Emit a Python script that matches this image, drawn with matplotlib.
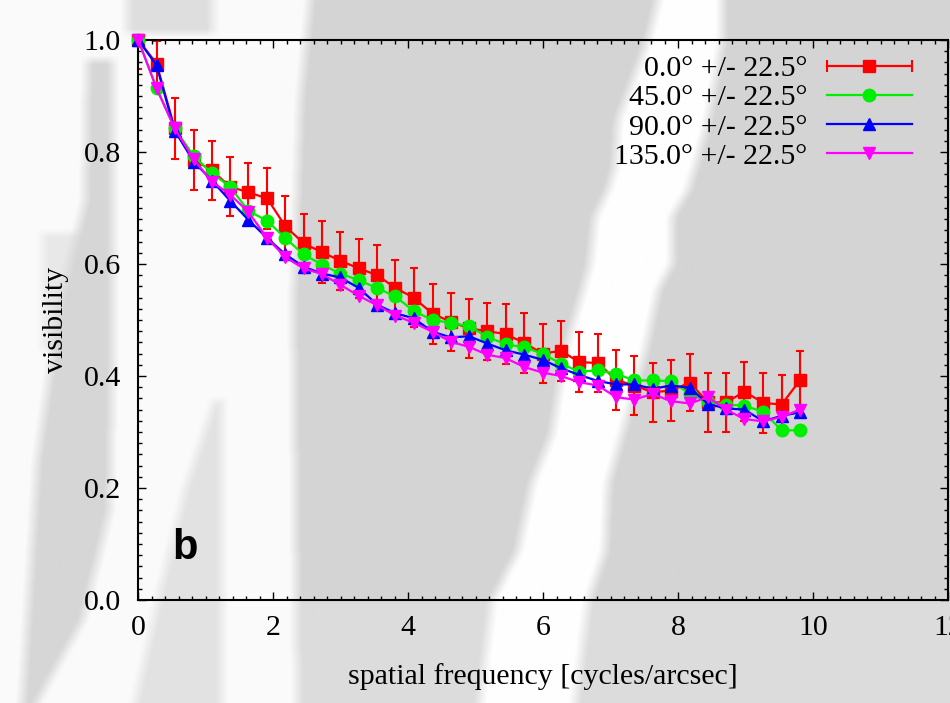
import numpy as np
import matplotlib
matplotlib.use("Agg")
import matplotlib.pyplot as plt
from matplotlib.path import Path
from matplotlib.lines import Line2D
from matplotlib.legend_handler import HandlerLine2D, HandlerTuple

# ---------------- data ----------------
freq = [0.00, 0.27, 0.54, 0.82, 1.09, 1.36, 1.63, 1.91, 2.18, 2.45, 2.72, 2.99,
        3.27, 3.54, 3.81, 4.08, 4.36, 4.63, 4.90, 5.17, 5.44, 5.72, 5.99, 6.26,
        6.53, 6.81, 7.08, 7.35, 7.62, 7.89, 8.17, 8.44, 8.71, 8.98, 9.26, 9.53, 9.80]

vis_0 = [1.000, 0.958, 0.842, 0.786, 0.767, 0.738, 0.728, 0.717, 0.667, 0.637, 0.621, 0.606,
         0.592, 0.580, 0.557, 0.540, 0.511, 0.497, 0.485, 0.480, 0.475, 0.459, 0.440, 0.445,
         0.425, 0.423, 0.393, 0.383, 0.371, 0.374, 0.388, 0.353, 0.353, 0.372, 0.352, 0.349, 0.392]
err_0 = [0.052, 0.040, 0.054, 0.054, 0.053, 0.053, 0.053, 0.054, 0.054, 0.053, 0.055, 0.052,
         0.052, 0.054, 0.051, 0.052, 0.053, 0.052, 0.053, 0.051, 0.054, 0.053, 0.053, 0.054,
         0.053, 0.052, 0.053, 0.053, 0.053, 0.054, 0.051, 0.053, 0.053, 0.053, 0.053, 0.053, 0.053]

vis_45 = [1.000, 0.914, 0.842, 0.793, 0.762, 0.738, 0.695, 0.677, 0.646, 0.617, 0.599, 0.583,
          0.571, 0.557, 0.542, 0.516, 0.500, 0.495, 0.489, 0.470, 0.457, 0.451, 0.440, 0.422,
          0.408, 0.410, 0.404, 0.392, 0.392, 0.391, 0.368, 0.354, 0.349, 0.347, 0.336, 0.303, 0.303]

vis_90 = [1.000, 0.955, 0.838, 0.783, 0.749, 0.713, 0.679, 0.646, 0.617, 0.595, 0.583, 0.576,
          0.557, 0.527, 0.512, 0.503, 0.479, 0.469, 0.471, 0.458, 0.446, 0.438, 0.429, 0.414,
          0.402, 0.391, 0.385, 0.385, 0.377, 0.383, 0.379, 0.350, 0.342, 0.340, 0.319, 0.329, 0.335]

vis_135 = [1.000, 0.914, 0.842, 0.787, 0.747, 0.724, 0.693, 0.646, 0.612, 0.592, 0.582, 0.563,
           0.543, 0.526, 0.508, 0.495, 0.479, 0.461, 0.452, 0.438, 0.432, 0.416, 0.406, 0.400,
           0.389, 0.383, 0.362, 0.358, 0.368, 0.355, 0.351, 0.362, 0.340, 0.323, 0.319, 0.327, 0.340]

labels = ["0.0\u00b0 +/- 22.5\u00b0", "45.0\u00b0 +/- 22.5\u00b0",
          "90.0\u00b0 +/- 22.5\u00b0", "135.0\u00b0 +/- 22.5\u00b0"]
colors = ["#ff0000", "#00ee00", "#0000ff", "#ff00ff"]
markers = ["s", "o", "^", "v"]

# ---------------- figure ----------------
W, H = 950, 703
fig = plt.figure(figsize=(W / 100, H / 100), dpi=100)

# decorative washed-out photo background (soft grey / white streaks)
yy, xx = np.mgrid[0:H, 0:W]
pts = np.column_stack([xx.ravel() + 0.5, yy.ravel() + 0.5])
img = np.full((H, W), 212.0)


def paint(poly, value):
    m = Path(poly).contains_points(pts).reshape(H, W)
    img[m] = value


paint([(0, 0), (127, 0), (127, 33), (213, 33), (213, 0), (310, 0), (300, 100),
       (293, 300), (297, 703), (0, 703)], 250)
paint([(127, 0), (213, 0), (213, 33), (127, 33)], 222)
paint([(43, 233), (83, 233), (83, 350), (43, 350)], 232)
paint([(87, 60), (113, 60), (113, 350), (110, 510), (83, 620), (37, 703), (22, 703),
       (27, 620), (37, 460), (60, 300), (85, 200)], 214)
paint([(215, 400), (222, 400), (222, 703), (135, 703), (160, 590), (185, 490)], 226)
paint([(297, 600), (492, 600), (480, 703), (297, 703)], 220)
paint([(588, 600), (950, 600), (950, 703), (575, 703)], 220)
paint([(658, 0), (648, 40), (618, 120), (615, 167), (608, 190), (595, 217), (590, 263),
       (583, 290), (565, 351), (552, 434), (532, 484), (518, 551), (492, 601), (480, 703),
       (575, 703), (588, 601), (605, 551), (608, 484), (622, 434), (645, 351), (658, 290),
       (672, 263), (672, 217), (688, 190), (695, 167), (708, 120), (722, 40), (722, 0)], 254)


def box_blur(a, kx, ky):
    pad = np.pad(a, ((0, 0), (kx, kx)), mode="edge")
    c = np.cumsum(pad, axis=1)
    c = np.concatenate([np.zeros((a.shape[0], 1)), c], axis=1)
    a = (c[:, 2 * kx + 1:] - c[:, :-2 * kx - 1]) / (2 * kx + 1)
    pad = np.pad(a, ((ky, ky), (0, 0)), mode="edge")
    c = np.cumsum(pad, axis=0)
    c = np.concatenate([np.zeros((1, a.shape[1])), c], axis=0)
    return (c[2 * ky + 1:, :] - c[:-2 * ky - 1, :]) / (2 * ky + 1)


img = box_blur(img, 6, 4)
rgb = np.dstack([img, img, img]) / 255.0
fig.figimage(rgb, xo=0, yo=0, origin="upper", zorder=-10)

ax = fig.add_axes([138.3 / W, 1 - 600 / H, 810 / W, 560 / H])
ax.set_facecolor("none")

serif = "Liberation Serif"
fs = 21.5

# error bars (clipped to the axes)
ax.errorbar(freq, vis_0, yerr=err_0, fmt="none", ecolor=colors[0], elinewidth=1.5,
            capsize=3.1, capthick=1.5, zorder=2)

series = [vis_0, vis_45, vis_90, vis_135]
for vals, c, m in zip(series, colors, markers):
    ax.plot(freq, vals, color=c, lw=1.6, marker=m, ms=8.8 if m != "o" else 9,
            mec=c, mfc=c, clip_on=False, zorder=3)

ax.set_xlim(0, 12)
ax.set_ylim(0, 1.0)
ax.set_xticks([0, 2, 4, 6, 8, 10, 12])
ax.set_xticklabels(["0", "2", "4", "6", "8", "10", "12"])
ax.set_yticks([0.0, 0.2, 0.4, 0.6, 0.8, 1.0])
ax.set_yticklabels(["0.0", "0.2", "0.4", "0.6", "0.8", "1.0"])
ax.xaxis.set_minor_locator(matplotlib.ticker.MultipleLocator(0.2))
ax.yaxis.set_minor_locator(matplotlib.ticker.MultipleLocator(0.02))
ax.tick_params(which="both", direction="in", top=True, right=True, width=1.0, color="black")
ax.tick_params(which="major", length=6)
ax.tick_params(which="minor", length=3)
ax.tick_params(axis="x", which="major", pad=11, labelsize=fs)
ax.tick_params(axis="y", which="major", pad=12.5, labelsize=fs)
for lab in ax.get_xticklabels() + ax.get_yticklabels():
    lab.set_fontfamily(serif)
for sp in ax.spines.values():
    sp.set_linewidth(1.5)

ax.set_xlabel("spatial frequency [cycles/arcsec]", fontsize=fs, family=serif)
ax.set_ylabel("visibility", fontsize=fs, family=serif)
ax.xaxis.set_label_coords(0.5, -0.113)
ax.yaxis.set_label_coords(-0.086, 0.5)

ax.text(0.51, 0.073, "b", fontsize=30, fontweight="bold", family="Liberation Sans",
        ha="left", va="baseline")

# legend (gnuplot style: text left of sample)
caps = Line2D([], [], color=colors[0], lw=1.6, marker="|", ms=8, mew=1.5)
sq = Line2D([], [], color=colors[0], marker="s", ms=8.8, ls="none")
h_red = (caps, sq)
h_others = [Line2D([], [], color=c, lw=1.6, marker=m, ms=8.8 if m != "o" else 9)
            for c, m in zip(colors[1:], markers[1:])]
leg = ax.legend([h_red] + h_others, labels, loc="upper right",
                bbox_to_anchor=(0.955, 0.973), markerfirst=False, frameon=False,
                prop={"family": serif, "size": fs}, handlelength=2.85,
                handletextpad=0.65, labelspacing=0.08, borderpad=0, borderaxespad=0,
                handler_map={caps: HandlerLine2D(numpoints=2, marker_pad=0),
                             tuple: HandlerTuple(ndivide=1, pad=0)})

fig.savefig("out.png", dpi=100)
